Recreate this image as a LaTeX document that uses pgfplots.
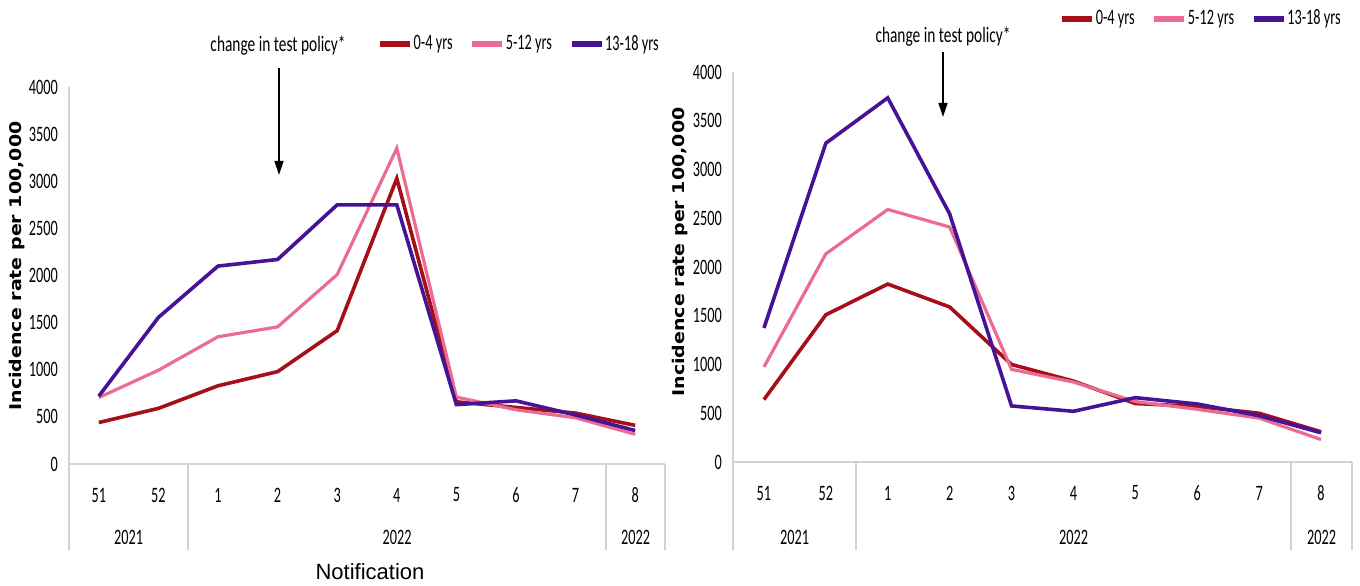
\documentclass[border=0pt]{standalone}
\usepackage{pgfplots}
\pgfplotsset{compat=1.18}
\usepackage{fontspec}
\setmainfont{Carlito}
\newfontfamily\vfont{DejaVu Sans}
\newfontfamily\afont{Liberation Sans}
\usetikzlibrary{arrows.meta}
\definecolor{cred}{RGB}{165,15,25}
\definecolor{cpink}{RGB}{235,108,145}
\definecolor{cpurple}{RGB}{70,18,150}
\definecolor{cgrid}{RGB}{210,210,210}
\newcommand\tl[1]{\scalebox{0.65}[1]{#1}}
\pgfplotsset{
  myax/.style={
    scale only axis, anchor=south west,
    xmin=-0.5, xmax=9.5, ymin=0, ymax=4000,
    axis x line*=bottom, axis y line*=left,
    axis line style={draw=none},
    major tick length=0pt,
    clip=false,
    xtick={0,...,9},
    xticklabels={\tl{51},\tl{52},\tl{1},\tl{2},\tl{3},\tl{4},\tl{5},\tl{6},\tl{7},\tl{8}},
    ytick={0,500,...,4000},
    yticklabels={\tl{0},\tl{500},\tl{1000},\tl{1500},\tl{2000},\tl{2500},\tl{3000},\tl{3500},\tl{4000}},
    xticklabel style={anchor=center, yshift=-15.5pt, font=\fontsize{11}{12}\selectfont},
    yticklabel style={anchor=east, xshift=-2pt, font=\fontsize{11}{12}\selectfont},
    legend columns=3,
    legend style={draw=none, fill=none, inner sep=0pt, font=\fontsize{11}{12}\selectfont,
      nodes={inner xsep=0.5pt, inner ysep=1pt},
      /tikz/every even column/.append style={column sep=8pt}},
    legend image code/.code={\draw[#1, line width=2.6pt] (0pt,0pt) -- (15pt,0pt);},
  },
  sred/.style={cred, line width=1.8pt, mark=none},
  spink/.style={cpink, line width=1.6pt, mark=none},
  spurple/.style={cpurple, line width=1.8pt, mark=none},
}
\begin{document}
\begin{tikzpicture}
\useasboundingbox (0,0) rectangle (680pt,292.5pt);
% ---------- left chart ----------
\begin{axis}[myax, at={(34.5pt,60.5pt)}, width=298pt, height=188.5pt,
  legend style={at={(0.9916,1.114)}, anchor=east}]
\addplot[sred] coordinates {(0,440) (1,590) (2,830) (3,980) (4,1415) (5,3030) (6,660) (7,600) (8,540) (9,410)};
\addlegendentry{\tl{0-4 yrs}}
\addplot[spink] coordinates {(0,705) (1,995) (2,1350) (3,1455) (4,2010) (5,3350) (6,710) (7,575) (8,490) (9,315)};
\addlegendentry{\tl{5-12 yrs}}
\addplot[spurple] coordinates {(0,720) (1,1555) (2,2100) (3,2170) (4,2750) (5,2750) (6,630) (7,670) (8,520) (9,355)};
\addlegendentry{\tl{13-18 yrs}}
\end{axis}
% table lines left
\draw[cgrid, line width=0.8pt] (34.5pt,249pt) -- (34.5pt,17.5pt);
\draw[cgrid, line width=0.8pt] (34.5pt,60.5pt) -- (332.5pt,60.5pt);
\draw[cgrid, line width=0.8pt] (94pt,60.5pt) -- (94pt,17.5pt);
\draw[cgrid, line width=0.8pt] (303pt,60.5pt) -- (303pt,17.5pt);
\draw[cgrid, line width=0.8pt] (332.5pt,60.5pt) -- (332.5pt,17.5pt);
\node[font=\fontsize{11}{12}\selectfont] at (64.25pt,24pt) {\tl{2021}};
\node[font=\fontsize{11}{12}\selectfont] at (198.5pt,24pt) {\tl{2022}};
\node[font=\fontsize{11}{12}\selectfont] at (317.75pt,24pt) {\tl{2022}};
\node[font=\afont\fontsize{11}{13}\selectfont] at (185pt,6.5pt) {Notification};
\node[rotate=90, font=\vfont\bfseries\fontsize{9.5}{11}\selectfont] at (8.5pt,159.5pt) {\scalebox{1}[0.85]{Incidence rate per 100,000}};
\node[font=\fontsize{11}{13}\selectfont] at (139pt,269.5pt) {\scalebox{0.7}[1]{change in test policy*}};
\draw[black, line width=0.7pt, -{Triangle[width=4.5pt,length=7pt]}] (139.5pt,258.5pt) -- (139.5pt,205pt);
% ---------- right chart ----------
\begin{axis}[myax, at={(366.5pt,61.5pt)}, width=309.5pt, height=195pt,
  legend style={at={(0.984,1.136)}, anchor=east}]
\addplot[sred] coordinates {(0,640) (1,1510) (2,1825) (3,1590) (4,1000) (5,830) (6,600) (7,570) (8,500) (9,310)};
\addlegendentry{\tl{0-4 yrs}}
\addplot[spink] coordinates {(0,975) (1,2135) (2,2590) (3,2410) (4,950) (5,820) (6,620) (7,540) (8,450) (9,230)};
\addlegendentry{\tl{5-12 yrs}}
\addplot[spurple] coordinates {(0,1375) (1,3270) (2,3735) (3,2545) (4,575) (5,520) (6,660) (7,595) (8,475) (9,300)};
\addlegendentry{\tl{13-18 yrs}}
\end{axis}
\draw[cgrid, line width=0.8pt] (366.5pt,256.5pt) -- (366.5pt,17.5pt);
\draw[cgrid, line width=0.8pt] (366.5pt,61.5pt) -- (676pt,61.5pt);
\draw[cgrid, line width=0.8pt] (428pt,61.5pt) -- (428pt,17.5pt);
\draw[cgrid, line width=0.8pt] (645.5pt,61.5pt) -- (645.5pt,17.5pt);
\draw[cgrid, line width=0.8pt] (676pt,61.5pt) -- (676pt,17.5pt);
\node[font=\fontsize{11}{12}\selectfont] at (397.25pt,24pt) {\tl{2021}};
\node[font=\fontsize{11}{12}\selectfont] at (536.75pt,24pt) {\tl{2022}};
\node[font=\fontsize{11}{12}\selectfont] at (660.75pt,24pt) {\tl{2022}};
\node[rotate=90, font=\vfont\bfseries\fontsize{9.5}{11}\selectfont] at (340pt,166.5pt) {\scalebox{1}[0.85]{Incidence rate per 100,000}};
\node[font=\fontsize{11}{13}\selectfont] at (471.5pt,274pt) {\scalebox{0.7}[1]{change in test policy*}};
\draw[black, line width=0.7pt, -{Triangle[width=4.5pt,length=7pt]}] (471.5pt,266.5pt) -- (471.5pt,234pt);
\end{tikzpicture}
\end{document}
